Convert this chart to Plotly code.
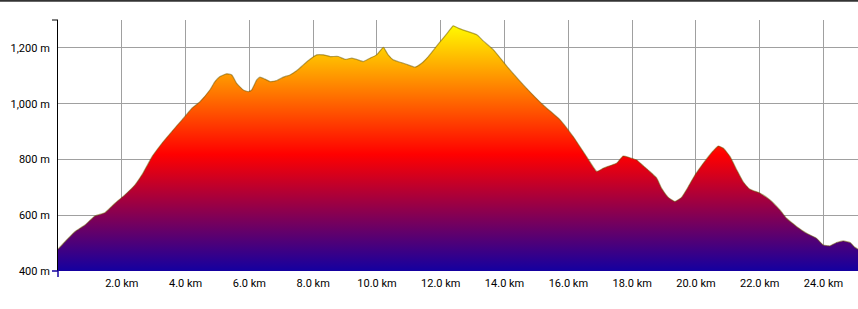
import plotly.graph_objects as go

# distance along the route (km) and elevation (m)
distance_km = [0.00, 0.22, 0.53, 0.85, 1.16, 1.47, 1.79, 2.10, 2.41, 2.66, 2.95, 3.26, 3.57, 3.89,
               4.20, 4.45, 4.76, 4.92, 5.08, 5.29, 5.45, 5.60, 5.81, 5.97, 6.07, 6.23, 6.33, 6.49,
               6.65, 6.86, 7.06, 7.27, 7.48, 7.69, 7.90, 8.11, 8.32, 8.53, 8.79, 9.00, 9.21, 9.41,
               9.57, 9.78, 9.99, 10.20, 10.35, 10.51, 10.77, 10.98, 11.19, 11.40, 11.61, 11.82,
               12.03, 12.24, 12.39, 12.55, 12.76, 13.13, 13.33, 13.65, 14.17, 14.69, 15.21, 15.74,
               16.15, 16.57, 16.89, 17.09, 17.30, 17.51, 17.72, 17.93, 18.14, 18.35, 18.56, 18.77,
               18.92, 19.13, 19.34, 19.55, 19.76, 19.97, 20.23, 20.49, 20.70, 20.86, 21.07, 21.28,
               21.48, 21.69, 22.01, 22.32, 22.63, 22.84, 23.16, 23.47, 23.78, 23.99, 24.20, 24.41,
               24.62, 24.83, 24.98, 25.08]
elevation_m = [478, 505, 541, 565, 597, 609, 643, 673, 708, 750, 810, 858, 900, 942,
               984, 1007, 1049, 1079, 1097, 1107, 1103, 1073, 1049, 1043, 1049, 1085, 1095, 1088,
               1079, 1083, 1095, 1103, 1118, 1139, 1159, 1175, 1175, 1169, 1169, 1159, 1163, 1157,
               1151, 1163, 1175, 1202, 1175, 1157, 1147, 1139, 1131, 1145, 1169, 1199,
               1229, 1258, 1279, 1271, 1262, 1247, 1225, 1193, 1121, 1055, 995, 942,
               882, 810, 757, 768, 777, 786, 812, 806, 798, 777, 756, 733,
               697, 664, 649, 664, 702, 744, 786, 824, 848, 840, 810, 762,
               720, 693, 679, 655, 619, 589, 559, 535, 517, 493, 490, 502,
               508, 502, 485, 478]

x_tickvals = [2, 4, 6, 8, 10, 12, 14, 16, 18, 20, 22, 24]
x_ticktext = ["2.0 km", "4.0 km", "6.0 km", "8.0 km", "10.0 km", "12.0 km", "14.0 km",
              "16.0 km", "18.0 km", "20.0 km", "22.0 km", "24.0 km"]
y_tickvals = [400, 600, 800, 1000, 1200]
y_ticktext = ["400 m", "600 m", "800 m", "1,000 m", "1,200 m"]

fig = go.Figure()
fig.add_trace(go.Scatter(
    x=distance_km, y=elevation_m,
    mode="lines",
    line=dict(color="rgba(105,85,0,0.5)", width=1.2, shape="spline", smoothing=0.4),
    fill="tozeroy",
    fillgradient=dict(type="vertical", start=400, stop=1290,
                      colorscale=[[0, "#1400a0"], [0.47, "#ff0000"], [1, "#ffff00"]]),
    hoverinfo="skip",
    showlegend=False,
))

font = dict(family="Roboto, 'Noto Sans', sans-serif", size=11, color="#000000")

fig.update_layout(
    width=858, height=309,
    margin=dict(l=58, r=0, t=20, b=38),
    paper_bgcolor="white", plot_bgcolor="white",
    font=font,
    xaxis=dict(range=[0, 25.08], tickmode="array", tickvals=x_tickvals, ticktext=x_ticktext,
               showgrid=True, gridcolor="#a0a0a0", gridwidth=1, zeroline=False,
               showline=False, ticks="", ticklabelstandoff=4, fixedrange=True),
    yaxis=dict(range=[400, 1300], tickmode="array", tickvals=y_tickvals, ticktext=y_ticktext,
               showgrid=True, gridcolor="#a0a0a0", gridwidth=1, zeroline=False,
               showline=True, linecolor="#000000", linewidth=1, ticks="",
               ticklabelstandoff=5, fixedrange=True),
    shapes=[
        # dark border at top of the page
        dict(type="line", xref="paper", yref="paper", x0=-0.08, x1=1.01,
             y0=1 + 19.3 / 251, y1=1 + 19.3 / 251, line=dict(color="#333333", width=2)),
        # small tick at top of the y axis
        dict(type="line", xref="paper", yref="paper", x0=-6 / 800, x1=0,
             y0=1, y1=1, line=dict(color="#000000", width=1)),
        # origin ticks
        dict(type="line", xref="paper", yref="paper", x0=-6 / 800, x1=0,
             y0=0, y1=0, line=dict(color="#1400a0", width=1.5)),
        dict(type="line", xref="paper", yref="paper", x0=0, x1=0,
             y0=0, y1=-6 / 251, line=dict(color="#1400a0", width=1.5)),
    ],
)

fig.write_html("out.html")
